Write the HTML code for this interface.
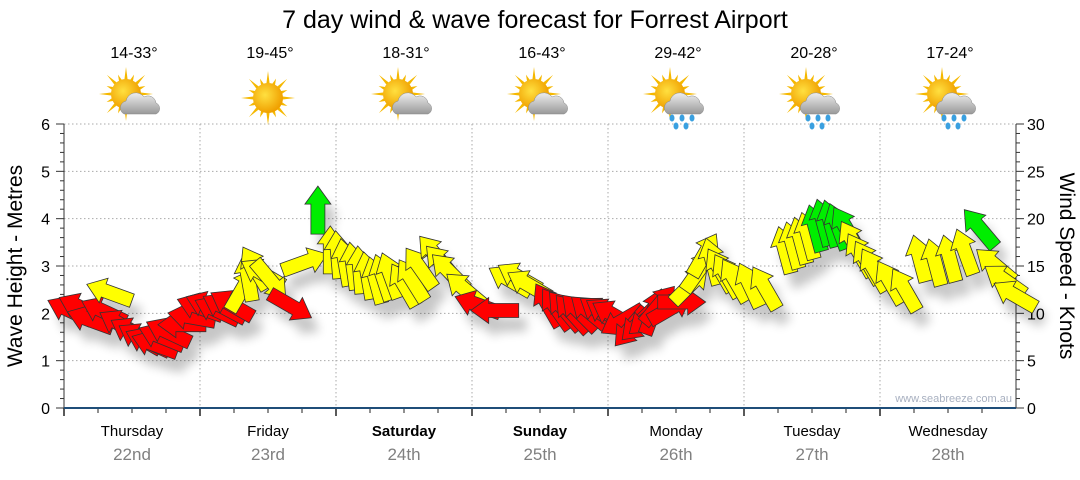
<!DOCTYPE html>
<html><head><meta charset="utf-8"><style>
html,body{margin:0;padding:0;background:#fff;}
body{width:1080px;height:475px;overflow:hidden;font-family:"Liberation Sans",sans-serif;}
</style></head><body>
<svg id="chart" width="1080" height="475" viewBox="0 0 1080 475" xmlns="http://www.w3.org/2000/svg">
<defs>
<filter id="sh" x="-50%" y="-50%" width="200%" height="200%"><feGaussianBlur stdDeviation="5"/></filter>
<radialGradient id="sunG" cx="0.4" cy="0.4" r="0.6"><stop offset="0" stop-color="#ffe040"/><stop offset="1" stop-color="#f0a000"/></radialGradient>
<linearGradient id="cloudG" x1="0" y1="0" x2="0" y2="1"><stop offset="0" stop-color="#eeeeee"/><stop offset="1" stop-color="#999"/></linearGradient>
</defs>
<text x="535" y="28" text-anchor="middle" font-size="25" fill="#000">7 day wind &amp; wave forecast for Forrest Airport</text>
<g id="grid"></g>
<g id="axes"></g>
<g id="icons"></g>
<g id="shadows" filter="url(#sh)" opacity="0.22"></g>
<g id="arrows"></g>
<text transform="translate(22,266) rotate(-90)" text-anchor="middle" font-size="21" fill="#000">Wave Height - Metres</text>
<text transform="translate(1060,266) rotate(90)" text-anchor="middle" font-size="21" fill="#000">Wind Speed - Knots</text>
<text x="1012" y="402" text-anchor="end" font-size="11" fill="#a8b0c0">www.seabreeze.com.au</text>
</svg>
<script>
const days = ["Thursday","Friday","Saturday","Sunday","Monday","Tuesday","Wednesday"];
const dates = ["22nd","23rd","24th","25th","26th","27th","28th"];
const boldDays = [false,false,true,true,false,false,false];
const temps = ["14-33°","19-45°","18-31°","16-43°","29-42°","20-28°","17-24°"];
const iconTypes = ["cloudy","sun","cloudy","cloudy","rain","rain","rain"];
const waveTicks = [0,1,2,3,4,5,6];
const windTicks = [0,5,10,15,20,25,30];
const hours = [1,3,4.6,7,8,10,12,13.4,14.8,16,17.2,18.4,20.8,22.5,24,25.5,27,28.3,29.6,31.4,32.5,33.7,35,36.4,40,42.5,44.8,47,48.3,49.6,51,52.2,53.6,55,56.3,57.6,60,61.4,62.8,65.5,66.8,68,70.8,73,76,78.7,80.3,82,85.4,86.9,88.4,89.7,91,92.8,94.6,95.8,97,98.5,100,101.5,103,104,105,107,109,110.5,112,113,114.4,115.8,117,118.4,121,123.7,127.2,128.6,130,131.3,132.6,134,135.3,136.6,138,139.3,140.5,141.8,143,145.8,148.4,151,153.7,156.3,159,161.6,164.3,166,167.8];
const knots = [10.3,10.6,9.3,10.2,12.2,8.8,8.0,7.4,7.0,6.7,7.5,8.0,8.8,9.6,10.6,10.8,10.3,10.6,10.9,12.5,13.8,14.8,14.2,13.5,10.8,15.4,20.9,16.7,16.2,15.4,15.0,14.6,14.0,13.5,13.8,14,13,13.5,14.8,16.2,15.2,14.4,12.5,10.9,10.3,13.5,13.8,13,10.9,10.5,10.3,10.0,10.1,10.1,10.1,10.0,9.8,9.2,8.5,9.0,9.5,10.2,10.9,10.5,11.2,13,14.5,16.2,15.5,14.6,14.0,13.5,13,12.7,16.7,17.2,17.7,18.2,19,19.6,19.5,19.2,19,17.5,16.2,15.4,14.6,13.3,12.5,15.8,15.4,15.8,16.5,19,15.1,13.5,11.9];
const bearings = [295,295,290,295,290,300,300,300,295,290,292,295,270,280,290,292,295,298,300,30,350,330,300,140,120,70,0,0,355,350,352,355,350,345,342,340,330,328,325,320,318,315,310,290,270,300,300,300,330,325,320,318,315,310,305,302,300,240,220,225,230,20,40,60,90,45,35,30,345,330,330,330,335,330,345,345,345,345,345,345,345,340,330,330,330,330,330,330,330,345,345,345,340,320,310,305,300];

const X0=64, X1=1016, Y0=408, Y1=124, DAYW=(X1-X0)/7;
const xH = h => X0 + h*DAYW/24;
const yWave = m => Y0 - m*(Y0-Y1)/6;
const yKn = k => Y0 - k*(Y0-Y1)/30;
const NS="http://www.w3.org/2000/svg";
function mk(tag, attrs, parent){const e=document.createElementNS(NS,tag);for(const k in attrs)e.setAttribute(k,attrs[k]);parent.appendChild(e);return e;}
const grid=document.getElementById('grid'), axes=document.getElementById('axes');

waveTicks.forEach((m,i)=>{
  const y=yWave(m);
  if(m>0){const l=mk('line',{x1:X0,x2:X1,y1:y,y2:y,stroke:'#aaa','stroke-dasharray':'1.5,2.5'},grid);
  
  }
  const t=mk('text',{x:50,y:y+6,'text-anchor':'end','font-size':16,fill:'#000'},axes);t.textContent=m;
  
  
});
for(let v=0;v<=6.001;v+=0.2){const y=yWave(v);mk('line',{x1:X0-(Math.abs(v-Math.round(v))<0.01?8:4),x2:X0,y1:y,y2:y,stroke:'#333'},axes);}
windTicks.forEach(k=>{
  const y=yKn(k);
  const t=mk('text',{x:1027,y:y+6,'text-anchor':'start','font-size':16,fill:'#000'},axes);t.textContent=k;
  
  
});
for(let k=0;k<=30;k++){const y=yKn(k);mk('line',{x1:X1,x2:X1+(k%5==0?8:4),y1:y,y2:y,stroke:'#333'},axes);}
mk('line',{x1:X0,x2:X0,y1:Y1,y2:Y0,stroke:'#333'},axes);
mk('line',{x1:X1,x2:X1,y1:Y1,y2:Y0,stroke:'#333'},axes);
days.forEach((d,i)=>{
  const xs=X0+i*DAYW, xc=xs+DAYW/2;
  if(i>0){const g=mk('line',{x1:xs,x2:xs,y1:Y1,y2:Y0,stroke:'#aaa','stroke-dasharray':'1.5,2.5'},grid);
  
  }
  mk('line',{x1:xs,x2:xs,y1:Y0,y2:Y0+8,stroke:'#222','stroke-width':1.5},axes);
  for(let q=1;q<4;q++)mk('line',{x1:xs+q*DAYW/4,x2:xs+q*DAYW/4,y1:Y0,y2:Y0+5,stroke:'#222'},axes);
  const t=mk('text',{x:xc,y:436,'text-anchor':'middle','font-size':15,fill:'#000','font-weight':boldDays[i]?'bold':'normal'},axes);t.textContent=d;
  
  
  const t2=mk('text',{x:xc,y:460,'text-anchor':'middle','font-size':17,fill:'#808080'},axes);t2.textContent=dates[i];
  
  
  const t3=mk('text',{x:xc+2,y:58,'text-anchor':'middle','font-size':16,fill:'#000'},axes);t3.textContent=temps[i];
  
  
  drawIcon(xc,i);
});
mk('line',{x1:X0,x2:X1,y1:Y0,y2:Y0,stroke:'#1f4e79','stroke-width':2},axes);

function drawIcon(xc,i){
  const g=mk('g',{transform:`translate(${xc},98)`},document.getElementById('icons'));
  
  
  const sx=iconTypes[i]=='sun'?0:-6, sy=iconTypes[i]=='sun'?0:-4;
  for(let a=0;a<16;a++){const ang=a*Math.PI/8, r1=14, r2=a%2?21:27;
    const p=[[sx+Math.cos(ang-0.12)*r1,sy+Math.sin(ang-0.12)*r1],[sx+Math.cos(ang)*r2,sy+Math.sin(ang)*r2],[sx+Math.cos(ang+0.12)*r1,sy+Math.sin(ang+0.12)*r1]];
    mk('polygon',{points:p.map(q=>q.join(',')).join(' '),fill:'#f5b800'},g);}
  mk('circle',{cx:sx,cy:sy,r:15,fill:'url(#sunG)'},g);
  if(iconTypes[i]!='sun'){
    mk('path',{d:'M-8,16 a7,7 0 0 1 2,-13 a10,10 0 0 1 18,-4 a8,8 0 0 1 12,6 a6,6 0 0 1 0,11 z',fill:'url(#cloudG)',stroke:'#888','stroke-width':0.5},g);
  }
  if(iconTypes[i]=='rain'){
    [[-4,20],[6,20],[16,20],[0,28],[10,28]].forEach(p=>mk('ellipse',{cx:p[0],cy:p[1],rx:2.5,ry:3.5,fill:'#3aa0e0'},g));
  }
}

function arrowPts(cx,cy,bear){
  const L=48, sw=7, hw=13, hl=18;
  const pts=[[-L/2,-sw],[L/2-hl,-sw],[L/2-hl,-hw],[L/2,0],[L/2-hl,hw],[L/2-hl,sw],[-L/2,sw]];
  const a=(bear-90)*Math.PI/180, c=Math.cos(a), s=Math.sin(a);
  return pts.map(p=>[(cx+p[0]*c-p[1]*s).toFixed(1),(cy+p[0]*s+p[1]*c).toFixed(1)].join(',')).join(' ');
}
const sh=document.getElementById('shadows'), ar=document.getElementById('arrows');
hours.forEach((h,i)=>{
  const cx=xH(h), cy=yKn(knots[i]);
  const col=knots[i]<11.5?'#ff0000':(knots[i]<18.5?'#ffff00':'#00ee00');
  mk('polygon',{points:arrowPts(cx+8,cy+14,bearings[i]),fill:'#000'},sh);
  const p=mk('polygon',{points:arrowPts(cx,cy,bearings[i]),fill:col,stroke:'#333','stroke-width':0.8},ar);
  
  
});
</script>
</body></html>
